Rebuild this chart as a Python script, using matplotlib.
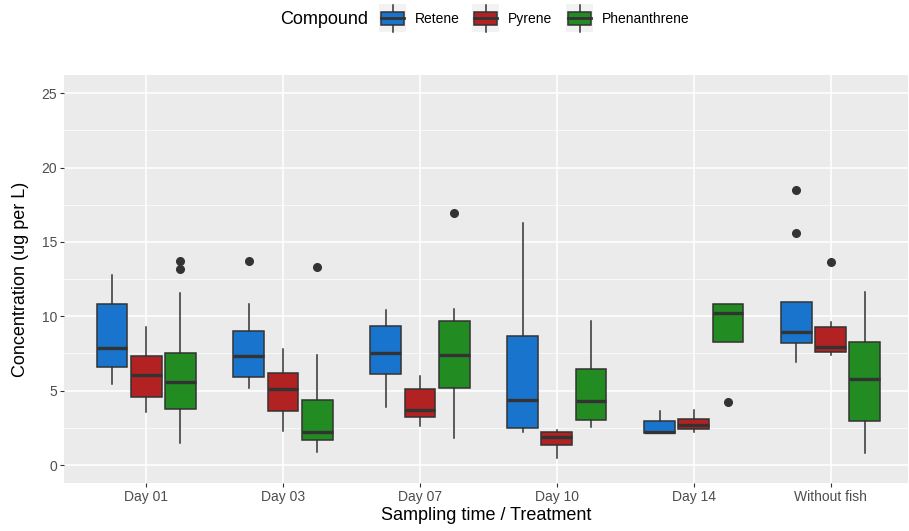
import matplotlib
matplotlib.use("Agg")
import matplotlib.pyplot as plt
from matplotlib.patches import Rectangle
from matplotlib.lines import Line2D

plt.rcParams['font.family'] = ['Liberation Sans', 'DejaVu Sans']

groups = ["Day 01", "Day 03", "Day 07", "Day 10", "Day 14", "Without fish"]
compounds = ["Retene", "Pyrene", "Phenanthrene"]
colors = ["#1874CD", "#B22222", "#228B22"]

# box stats: median, q1, q3, whisker low/high, outliers
retene_med = [7.90, 7.34, 7.52, 4.36, 2.22, 8.94]
retene_q1 = [6.56, 5.90, 6.11, 2.47, 2.16, 8.20]
retene_q3 = [10.85, 9.03, 9.37, 8.67, 2.94, 10.98]
retene_lo = [5.46, 5.16, 3.93, 2.25, 2.16, 6.96]
retene_hi = [12.80, 10.85, 10.40, 16.28, 3.64, 10.98]
retene_out = [[], [13.75], [], [], [], [18.49, 15.59]]

pyrene_med = [6.06, 5.10, 3.73, 1.91, 2.72, 7.93]
pyrene_q1 = [4.60, 3.66, 3.26, 1.35, 2.45, 7.57]
pyrene_q3 = [7.30, 6.18, 5.12, 2.20, 3.10, 9.25]
pyrene_lo = [3.55, 2.29, 2.63, 0.50, 2.25, 7.37]
pyrene_hi = [9.25, 7.82, 6.00, 2.36, 3.70, 9.59]
pyrene_out = [[], [], [], [], [], [13.63]]

phen_med = [5.57, 2.20, 7.37, 4.31, 10.22, 5.77]
phen_q1 = [3.77, 1.71, 5.21, 3.03, 8.27, 2.96]
phen_q3 = [7.52, 4.38, 9.70, 6.47, 10.80, 8.27]
phen_lo = [1.46, 0.90, 1.84, 2.58, 8.27, 0.79]
phen_hi = [11.60, 7.41, 10.51, 9.66, 10.80, 11.64]
phen_out = [[13.75, 13.19], [13.32], [16.98], [], [4.22], []]

series = [
    (retene_med, retene_q1, retene_q3, retene_lo, retene_hi, retene_out),
    (pyrene_med, pyrene_q1, pyrene_q3, pyrene_lo, pyrene_hi, pyrene_out),
    (phen_med, phen_q1, phen_q3, phen_lo, phen_hi, phen_out),
]

W, H = 909, 531
fig = plt.figure(figsize=(W / 100, H / 100), dpi=100)
ax = fig.add_axes([64 / W, 1 - 483.3 / H, (908 - 64) / W, (483.3 - 75) / H])
ax.set_facecolor("#EBEBEB")
for s in ax.spines.values():
    s.set_visible(False)

edge = "#333333"
offsets = [-0.25, 0.0, 0.25]
for k, (med, q1, q3, lo, hi, out) in enumerate(series):
    stats = []
    for i in range(len(groups)):
        stats.append(dict(med=med[i], q1=q1[i], q3=q3[i], whislo=lo[i],
                          whishi=hi[i], fliers=out[i]))
    pos = [i + 1 + offsets[k] for i in range(len(groups))]
    ax.bxp(stats, positions=pos, widths=0.225, patch_artist=True,
           showcaps=False, manage_ticks=False,
           boxprops=dict(facecolor=colors[k], edgecolor=edge, linewidth=1.1),
           whiskerprops=dict(color=edge, linewidth=1.1),
           medianprops=dict(color=edge, linewidth=2.4, solid_capstyle="butt"),
           flierprops=dict(marker="o", markerfacecolor=edge, markeredgecolor=edge,
                           markersize=5.5))

ax.set_xlim(0.4, 6.565)
ax.set_ylim(-1.23, 26.23)
ax.set_xticks(range(1, len(groups) + 1))
ax.set_xticklabels(groups)
ax.set_yticks([0, 5, 10, 15, 20, 25])
ax.set_yticks([2.5, 7.5, 12.5, 17.5, 22.5], minor=True)
ax.grid(which="major", color="white", linewidth=1.1)
ax.grid(which="minor", axis="y", color="white", linewidth=0.5)
ax.set_axisbelow(True)
ax.tick_params(which="major", length=3, width=0.8, color=edge,
               labelcolor="#4D4D4D", labelsize=10, pad=2)
ax.tick_params(which="minor", length=0)

ax.set_xlabel("Sampling time / Treatment", fontsize=13, labelpad=2)
ax.set_ylabel("Concentration (ug per L)", fontsize=13, labelpad=9)


# legend drawn by hand at the top
def fx(x):
    return x / W


def fy(y):
    return 1 - y / H


fig.text(fx(280), fy(19), "Compound", fontsize=13, ha="left", va="center")
keys_x = [380, 473, 567]
for k, name in enumerate(compounds):
    x0 = keys_x[k]
    fig.add_artist(Rectangle((fx(x0 - 1), fy(32)), fx(27), 28 / H,
                             transform=fig.transFigure, facecolor="#F2F2F2",
                             edgecolor="none", zorder=1))
    fig.add_artist(Line2D([fx(x0 + 12.5)] * 2, [fy(5), fy(31.5)],
                          transform=fig.transFigure, color=edge, linewidth=1.1,
                          zorder=2))
    fig.add_artist(Rectangle((fx(x0 + 1), fy(25)), fx(23), 13.3 / H,
                             transform=fig.transFigure, facecolor=colors[k],
                             edgecolor=edge, linewidth=1.1, zorder=3))
    fig.add_artist(Line2D([fx(x0 + 1), fx(x0 + 24)], [fy(18.3)] * 2,
                          transform=fig.transFigure, color=edge, linewidth=2.0,
                          zorder=4))
    fig.text(fx(x0 + 35), fy(19), name, fontsize=10, ha="left", va="center")

fig.savefig("out.png", dpi=100)
